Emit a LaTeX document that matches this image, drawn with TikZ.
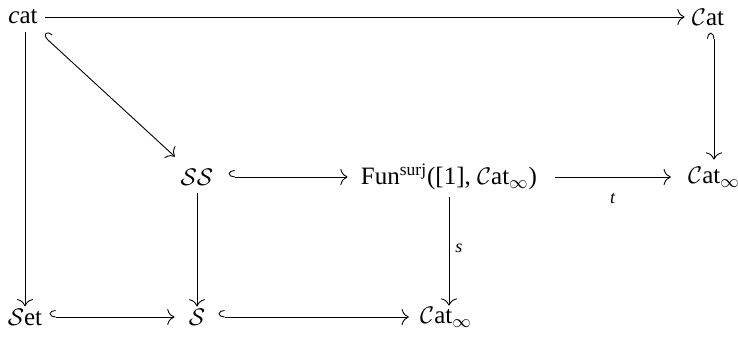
\documentclass[tikz,border=0pt]{standalone}
\usepackage{fontspec}
\setmainfont{Liberation Serif}
\usetikzlibrary{arrows.meta}
\begin{document}
\begin{tikzpicture}[
  x=1pt,y=1pt,
  every node/.style={inner sep=3.5pt, font=\fontsize{12.5}{15}\selectfont},
  tip/.tip={Computer Modern Rightarrow[length=3.6pt,width=8pt]},
  ar/.style={draw, line width=0.45pt, -tip},
  hk/.style={draw, line width=0.45pt, {Hooks[right,length=3pt,width=7pt]}-tip},
  hkp/.style={draw, line width=0.45pt, {Hooks[left,length=3pt,width=7pt]}-tip},
  lab/.style={font=\fontsize{9}{10}\selectfont\itshape, inner sep=3pt}
]
\useasboundingbox (0,0) rectangle (369,-174);
\node (cat) at (11.5,-8.5) {\textit{c}at};
\node (Cat) at (354,-8.5) {$\mathcal{C}$at};
\node (SS) at (98.5,-88.5) {$\mathcal{S}\mathcal{S}$};
\node (Fun) at (224.5,-88.5) {Fun\textsuperscript{surj}([1], $\mathcal{C}$at$_\infty$)};
\node (CatR) at (357,-88.5) {$\mathcal{C}$at$_\infty$};
\node (Set) at (12.5,-158.5) {$\mathcal{S}$et};
\node (S) at (98.5,-158.5) {$\mathcal{S}$};
\node (CatB) at (223,-158.5) {$\mathcal{C}$at$_\infty$};

\draw[ar] (cat) -- (Cat);
\draw[ar, shorten >=-2.5pt] (cat.south -| Set) -- (Set);
\draw[hk, shorten <=3pt, shorten >=3.5pt] (cat) -- (SS);
\draw[hkp] (Cat.south -| CatR) -- (CatR);
\draw[hk, shorten <=4pt, shorten >=3pt] (SS) -- (Fun);
\draw[ar, shorten <=5.5pt, shorten >=5pt] (Fun) -- node[lab, below=5pt] {t} (CatR);
\draw[ar, shorten >=-2.5pt] (SS) -- (S);
\draw[ar, shorten >=-3pt] (Fun.south) -- node[lab, right] {s} (Fun.south |- CatB.north);
\draw[hk, shorten >=3.5pt] (Set) -- (S);
\draw[hk, shorten <=3pt, shorten >=2pt] (S) -- (CatB);
\end{tikzpicture}
\end{document}
